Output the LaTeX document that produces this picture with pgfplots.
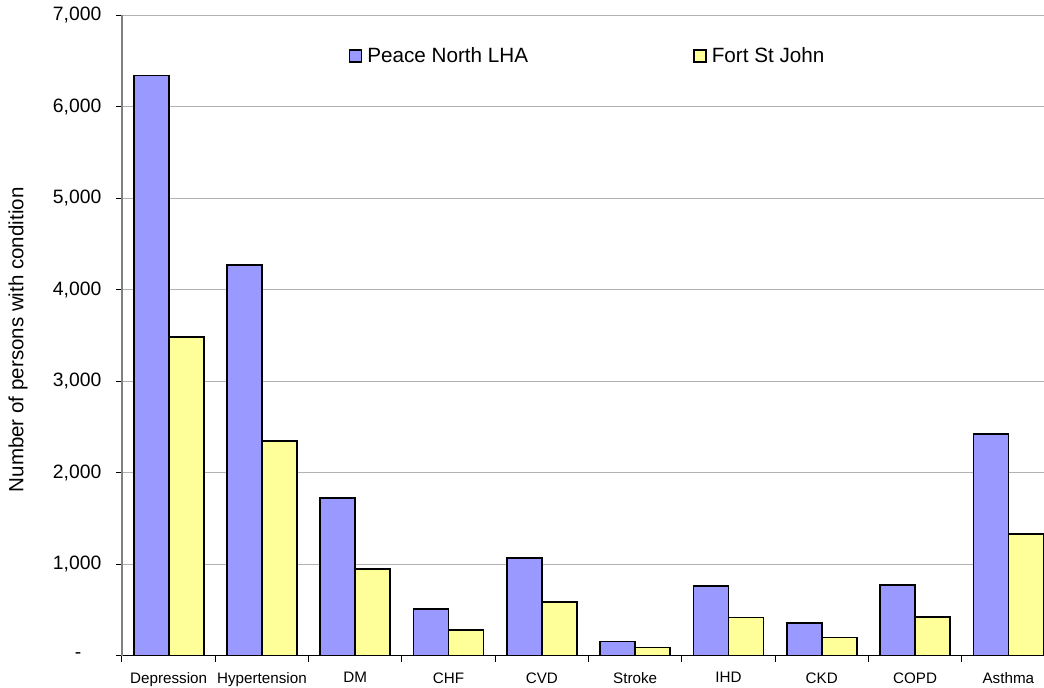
\documentclass[border=0pt]{standalone}
\usepackage{fontspec}
\setmainfont{Liberation Sans}
\usepackage{pgfplots}
\pgfplotsset{compat=1.18}
\definecolor{peace}{HTML}{9999FF}
\definecolor{fsj}{HTML}{FFFF99}

\begin{document}
\begin{tikzpicture}
\begin{axis}[
    name=ax,
    scale only axis,
    width=699.75pt, height=480.5pt,
    ybar=0pt, bar width=26.25pt,
    xmin=-0.5, xmax=9.5,
    ymin=0, ymax=7000,
    axis lines*=left,
    x axis line style={black, line width=0.9pt},
    y axis line style={gray, line width=0.9pt},
    tick align=outside,
    major tick length=4.5pt,
    xtick={0,...,9},
    xticklabels={Depression,Hypertension,DM,CHF,CVD,Stroke,IHD,CKD,COPD,Asthma},
    x tick style={draw=none},
    extra x ticks={-0.5,0.5,...,9.5},
    extra x tick labels={},
    extra x tick style={xmajorgrids=false, x tick style={draw=black, line width=0.75pt}},
    x tick label style={font=\fontsize{11.4}{13}\selectfont, yshift=-4.5pt},
    ytick={0,1000,...,7000},
    yticklabels={{-\rule{15pt}{0pt}},{1,000},{2,000},{3,000},{4,000},{5,000},{6,000},{7,000}},
    y tick style={black, line width=0.75pt},
    y tick label style={font=\fontsize{14.5}{16}\selectfont, xshift=-7.5pt},
    ymajorgrids,
    y grid style={gray!60, line width=0.75pt},
    ylabel={Number of persons with condition},
    ylabel style={at={(axis description cs:-0.1115,0.493)}, anchor=center, font=\fontsize{15.4}{18}\selectfont},
    legend style={draw=none, fill=none, at={(0.2386,0.936)}, anchor=west,
        font=\fontsize{15.5}{18}\selectfont, legend columns=2,
        /tikz/every odd column/.append style={column sep=2pt},
        /tikz/every even column/.append style={column sep=122pt}},
]
\addplot[fill=peace, draw=black, line width=1.3pt,
    legend image code/.code={\draw[fill=peace, draw=black, line width=0.8pt] (0pt,-4.5pt) rectangle (9pt,4.5pt);}]
    coordinates {
    (0,6340) (1,4270) (2,1720) (3,510) (4,1068)
    (5,155) (6,762) (7,358) (8,776) (9,2420)
    };
\addplot[fill=fsj, draw=black, line width=1.3pt,
    legend image code/.code={\draw[fill=fsj, draw=black, line width=0.8pt] (0pt,-4.5pt) rectangle (9pt,4.5pt);}]
    coordinates {
    (0,3485) (1,2345) (2,948) (3,280) (4,587)
    (5,90) (6,417) (7,199) (8,424) (9,1330)
    };
\legend{Peace North LHA, Fort St John}
\end{axis}
\pgfresetboundingbox
\path[use as bounding box] ([xshift=-91.5pt,yshift=-23.5pt]ax.south west) rectangle ([xshift=691.5pt,yshift=491.75pt]ax.south west);
\end{tikzpicture}
\end{document}
